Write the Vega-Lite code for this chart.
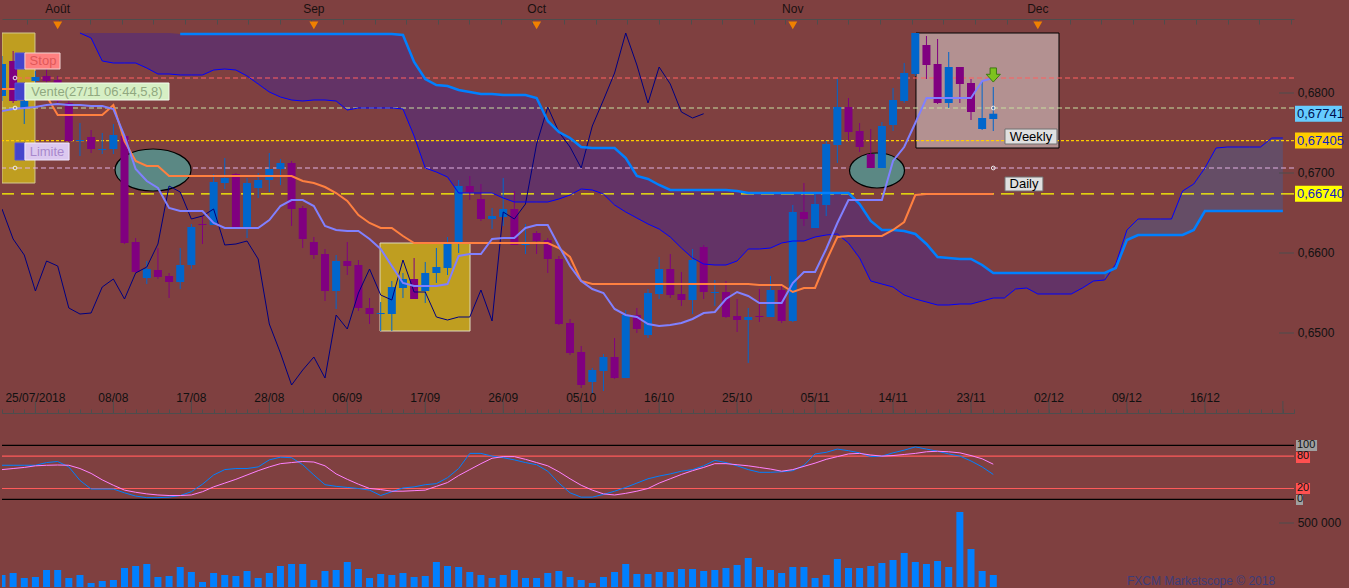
{
"$schema": "https://vega.github.io/schema/vega-lite/v6.json",
"background": "#7f4040",
"padding": 0,
"bounds": "flush",
"spacing": 0,
"config": {"view": {"stroke": null}, "font": "Liberation Sans",
  "axis": {"grid": false, "domainColor": "#4d4d4d", "tickColor": "#4d4d4d", "labelColor": "#111111", "labelFont": "Liberation Sans", "labelFontSize": 12}},
"datasets": {
"months": [{"i":0,"m":"Août"},{"i":23,"m":"Sep"},{"i":43,"m":"Oct"},{"i":66,"m":"Nov"},{"i":88,"m":"Dec"}],
"dates": [{"i":-2,"t":"25/07/2018"},{"i":5,"t":"08/08"},{"i":12,"t":"17/08"},{"i":19,"t":"28/08"},{"i":26,"t":"06/09"},{"i":33,"t":"17/09"},{"i":40,"t":"26/09"},{"i":47,"t":"05/10"},{"i":54,"t":"16/10"},{"i":61,"t":"25/10"},{"i":68,"t":"05/11"},{"i":75,"t":"14/11"},{"i":82,"t":"23/11"},{"i":89,"t":"02/12"},{"i":96,"t":"09/12"},{"i":103,"t":"16/12"},{"i":110,"t":""}],
"plab": [{"p":0.68,"t":"0,6800"},{"p":0.67,"t":"0,6700"},{"p":0.66,"t":"0,6600"},{"p":0.65,"t":"0,6500"}],
"vlab": [{"v":500000,"t":"500 000"}],
"boxes": [{"k":"yl","x1":-5,"x2":-2.04,"y1":0.66875,"y2":0.6875},{"k":"ym","x1":28.94,"x2":37.02,"y1":0.65025,"y2":0.66125},{"k":"pk","x1":77.06,"x2":89.9,"y1":0.673125,"y2":0.6875}],
"hl": [{"k":"stop","p":0.681875},{"k":"vente","p":0.678125},{"k":"t1","p":0.67405},{"k":"lim","p":0.670625},{"k":"t2","p":0.6674}],
"ell": [{"k":"a","i":8.56,"p":0.670375},{"k":"b","i":73.56,"p":0.6703125}],
"lbox": [{"k":"sq","x1":-3.83,"x2":-2.94,"y1":0.683,"y2":0.685},{"k":"stop","x1":-2.94,"x2":0.21,"y1":0.683,"y2":0.685},{"k":"sq","x1":-3.83,"x2":-2.94,"y1":0.679125,"y2":0.68125},{"k":"vente","x1":-2.94,"x2":9.99,"y1":0.679125,"y2":0.68125},{"k":"sq","x1":-3.83,"x2":-2.94,"y1":0.671625,"y2":0.67375},{"k":"lim","x1":-2.94,"x2":1.02,"y1":0.671625,"y2":0.67375},{"k":"wd","x1":85.05,"x2":89.72,"y1":0.673625,"y2":0.6755},{"k":"wd","x1":85.05,"x2":88.46,"y1":0.66775,"y2":0.6695}],
"ltext": [{"k":"stop","t":"Stop","i":-1.32,"p":0.684},{"k":"vente","t":"Vente(27/11 06:44,5,8)","i":3.53,"p":0.6801875},{"k":"lim","t":"Limite","i":-0.96,"p":0.6726875},{"k":"wd","t":"Weekly","i":87.39,"p":0.6745625},{"k":"wd","t":"Daily","i":86.76,"p":0.668625}],
"dots": [{"i":-3.83,"p":0.681875},{"i":-3.83,"p":0.678125},{"i":-3.83,"p":0.670625},{"i":84,"p":0.678125},{"i":84,"p":0.670625}],
"arrow": [{"i":84,"p":0.68225}],
"tags": [{"k":"bid","t":"0,67741","p":0.67741,"lo":0.67641,"hi":0.67841,"x1":111.09,"x2":115.3},{"k":"t1","t":"0,67405","p":0.67405,"lo":0.67305,"hi":0.67505,"x1":111.09,"x2":115.3},{"k":"t2","t":"0,66740","p":0.6674,"lo":0.6664,"hi":0.6684,"x1":111.09,"x2":115.3}],
"slev": [{"v":0,"k":"b"},{"v":100,"k":"b"},{"v":20,"k":"r"},{"v":80,"k":"r"}],
"stags": [{"t":"100","v":100,"lo":89.4,"hi":109.8,"x1":111.18,"x2":113.07,"k":"g"},{"t":"80","v":80,"lo":67.2,"hi":87.6,"x1":111.18,"x2":112.44,"k":"r"},{"t":"20","v":20,"lo":9.8,"hi":30.2,"x1":111.18,"x2":112.44,"k":"r"},{"t":"0","v":0,"lo":-10.6,"hi":8,"x1":111.18,"x2":111.81,"k":"g"}],
"cloud": [
{"i":2,"at":0.6875,"b":0.6875},{"i":3,"at":0.6875,"b":0.686875},{"i":4,"at":0.6875,"b":0.684},{"i":5,"at":0.6875,"b":0.68375},{"i":6,"at":0.6875,"b":0.68375},{"i":7,"at":0.6875,"b":0.68375},{"i":8,"at":0.6875,"b":0.683125},{"i":9,"at":0.6875,"b":0.682375},{"i":10,"at":0.6875,"b":0.682375},
{"i":11,"at":0.687375,"b":0.68225},{"i":12,"at":0.687375,"b":0.68225},{"i":13,"at":0.687375,"b":0.68225},{"i":14,"at":0.687375,"b":0.682875},{"i":15,"at":0.687375,"b":0.683},{"i":16,"at":0.687375,"b":0.682875},{"i":17,"at":0.687375,"b":0.682125},{"i":18,"at":0.687375,"b":0.681125},{"i":19,"at":0.687375,"b":0.680125},{"i":20,"at":0.687375,"b":0.6795},
{"i":21,"at":0.687375,"b":0.679125},{"i":22,"at":0.687375,"b":0.679},{"i":23,"at":0.687375,"b":0.679125},{"i":24,"at":0.687375,"b":0.679125},{"i":25,"at":0.687375,"b":0.679},{"i":26,"at":0.687375,"b":0.677875},{"i":27,"at":0.687375,"b":0.678125},{"i":28,"at":0.687375,"b":0.678125},{"i":29,"at":0.687375,"b":0.678125},{"i":30,"at":0.687375,"b":0.678125},
{"i":31,"at":0.68725,"b":0.678},{"i":32,"at":0.683875,"b":0.674625},{"i":33,"at":0.68175,"b":0.670625},{"i":34,"at":0.681,"b":0.670125},{"i":35,"at":0.680875,"b":0.6695},{"i":36,"at":0.680375,"b":0.6675},{"i":37,"at":0.680125,"b":0.6675},{"i":38,"at":0.679875,"b":0.6675},{"i":39,"at":0.679875,"b":0.6675},{"i":40,"at":0.67975,"b":0.666875},
{"i":41,"at":0.67975,"b":0.666375},{"i":42,"at":0.67975,"b":0.666375},{"i":43,"at":0.679375,"b":0.666375},{"i":44,"at":0.6765,"b":0.666375},{"i":45,"at":0.675125,"b":0.66675},{"i":46,"at":0.674375,"b":0.66725},{"i":47,"at":0.67325,"b":0.668},{"i":48,"at":0.673125,"b":0.667875},{"i":49,"at":0.673125,"b":0.667375},{"i":50,"at":0.673125,"b":0.666},
{"i":51,"at":0.671875,"b":0.665125},{"i":52,"at":0.669625,"b":0.664375},{"i":53,"at":0.66925,"b":0.663625},{"i":54,"at":0.6685,"b":0.663},{"i":55,"at":0.667875,"b":0.662},{"i":56,"at":0.667875,"b":0.660625},{"i":57,"at":0.667875,"b":0.659375},{"i":58,"at":0.667875,"b":0.658625},{"i":59,"at":0.667875,"b":0.6585},{"i":60,"at":0.667875,"b":0.6585},
{"i":61,"at":0.66775,"b":0.659},{"i":62,"at":0.6675,"b":0.6605},{"i":63,"at":0.6675,"b":0.6605},{"i":64,"at":0.6675,"b":0.660625},{"i":65,"at":0.6675,"b":0.66125},{"i":66,"at":0.6675,"b":0.6615},{"i":67,"at":0.6675,"b":0.6615},{"i":68,"at":0.6675,"b":0.662},{"i":69,"at":0.6675,"b":0.66225},{"i":70,"at":0.6675,"b":0.662375},
{"i":71,"at":0.6675,"b":0.66125},{"i":72,"at":0.666125,"b":0.659375},{"i":73,"at":0.664,"b":0.6565},{"i":74,"at":0.662875,"b":0.656125},{"i":75,"at":0.662875,"b":0.65575},{"i":76,"at":0.66275,"b":0.65475},{"i":77,"at":0.662375,"b":0.65425},{"i":78,"at":0.661125,"b":0.653875},{"i":79,"at":0.6595,"b":0.6535},{"i":80,"at":0.659375,"b":0.6535},
{"i":81,"at":0.65925,"b":0.653625},{"i":82,"at":0.65925,"b":0.653625},{"i":83,"at":0.6585,"b":0.654},{"i":84,"at":0.6575,"b":0.654375},{"i":85,"at":0.6575,"b":0.654375},{"i":86,"at":0.6575,"b":0.6555},{"i":87,"at":0.6575,"b":0.655625},{"i":88,"at":0.6575,"b":0.654875},{"i":89,"at":0.6575,"b":0.654875},{"i":90,"at":0.6575,"b":0.654875},
{"i":91,"at":0.6575,"b":0.654875},{"i":92,"at":0.6575,"b":0.655625},{"i":93,"at":0.6575,"b":0.6565},{"i":94,"at":0.6575,"b":0.656625},{"i":95,"at":0.658125,"b":0.658625},{"i":96,"at":0.661625,"b":0.662875},{"i":97,"at":0.66225,"b":0.66425},{"i":98,"at":0.66225,"b":0.66425},{"i":99,"at":0.66225,"b":0.66425},{"i":100,"at":0.66225,"b":0.66425},
{"i":101,"at":0.66225,"b":0.66775},{"i":102,"at":0.662875,"b":0.668625},{"i":103,"at":0.66525,"b":0.670625},{"i":104,"at":0.66525,"b":0.673125},{"i":105,"at":0.66525,"b":0.67325},{"i":106,"at":0.66525,"b":0.67325},{"i":107,"at":0.66525,"b":0.67325},{"i":108,"at":0.66525,"b":0.67325},{"i":109,"at":0.66525,"b":0.674375},{"i":110,"at":0.66525,"b":0.674375}
],
"bars": [
{"i":-5,"o":0.679625,"h":0.684625,"l":0.679,"c":0.683625,"v":93750,"k":63,"d":55,"tk":0.67775,"kj":0.6805,"ch":0.6655},
{"i":-4,"o":0.684,"h":0.68525,"l":0.67875,"c":0.679,"v":109375,"k":63,"d":57,"tk":0.678,"kj":0.6805,"ch":0.66175},
{"i":-3,"o":0.678125,"h":0.67925,"l":0.676125,"c":0.679,"v":70313,"k":63,"d":59,"tk":0.678125,"kj":0.6805,"ch":0.65975},
{"i":-2,"o":0.6815,"h":0.68275,"l":0.680875,"c":0.682,"v":78125,"k":63,"d":62,"tk":0.67825,"kj":0.6805,"ch":0.65525},
{"i":-1,"o":0.682125,"h":0.683,"l":0.68125,"c":0.6815,"v":132813,"k":68,"d":63,"tk":0.6785,"kj":0.679625,"ch":0.659},
{"i":0,"o":0.681625,"h":0.682125,"l":0.678625,"c":0.679,"v":132813,"k":70,"d":63.5,"tk":0.678625,"kj":0.67725,"ch":0.658375},
{"i":1,"o":0.67875,"h":0.679,"l":0.673875,"c":0.674,"v":70313,"k":60,"d":63,"tk":0.6785,"kj":0.67725,"ch":0.653125},
{"i":2,"o":0.674,"h":0.67625,"l":0.672125,"c":0.674125,"v":93750,"k":35,"d":57,"tk":0.6785,"kj":0.67725,"ch":0.652375},
{"i":3,"o":0.6745,"h":0.675375,"l":0.6725,"c":0.673,"v":31250,"k":19,"d":48,"tk":0.678375,"kj":0.67725,"ch":0.6525},
{"i":4,"o":0.672875,"h":0.675,"l":0.672375,"c":0.673,"v":46875,"k":19,"d":36,"tk":0.678375,"kj":0.67725,"ch":0.65575},
{"i":5,"o":0.673,"h":0.676125,"l":0.672375,"c":0.67475,"v":54688,"k":19,"d":26,"tk":0.678,"kj":0.6785,"ch":0.65675},
{"i":6,"o":0.674625,"h":0.674875,"l":0.661125,"c":0.66125,"v":148438,"k":12,"d":17,"tk":0.674625,"kj":0.674,"ch":0.65425},
{"i":7,"o":0.661375,"h":0.661875,"l":0.6575,"c":0.657625,"v":164063,"k":6,"d":13,"tk":0.6705,"kj":0.6715,"ch":0.6575},
{"i":8,"o":0.656875,"h":0.659,"l":0.656125,"c":0.658,"v":179688,"k":3,"d":10,"tk":0.669,"kj":0.670875,"ch":0.65825},
{"i":9,"o":0.657875,"h":0.660625,"l":0.65675,"c":0.657,"v":78125,"k":3,"d":8,"tk":0.668125,"kj":0.670875,"ch":0.661125},
{"i":10,"o":0.657125,"h":0.6575,"l":0.654375,"c":0.656375,"v":85938,"k":4,"d":7,"tk":0.665625,"kj":0.669625,"ch":0.668375},
{"i":11,"o":0.656375,"h":0.660625,"l":0.6555,"c":0.6585,"v":156250,"k":7,"d":7,"tk":0.66525,"kj":0.669625,"ch":0.667625},
{"i":12,"o":0.6585,"h":0.663625,"l":0.658,"c":0.66325,"v":117188,"k":14,"d":8,"tk":0.66525,"kj":0.669625,"ch":0.66425},
{"i":13,"o":0.663625,"h":0.664625,"l":0.661125,"c":0.6635,"v":39063,"k":28,"d":14,"tk":0.66525,"kj":0.669625,"ch":0.664625},
{"i":14,"o":0.6635,"h":0.669875,"l":0.6635,"c":0.668875,"v":109375,"k":45,"d":23,"tk":0.66375,"kj":0.669625,"ch":0.6655},
{"i":15,"o":0.66875,"h":0.671875,"l":0.668,"c":0.669375,"v":93750,"k":55,"d":30,"tk":0.663125,"kj":0.669625,"ch":0.661},
{"i":16,"o":0.669875,"h":0.67,"l":0.663125,"c":0.66325,"v":85938,"k":57,"d":37,"tk":0.663125,"kj":0.669625,"ch":0.661125},
{"i":17,"o":0.66325,"h":0.669375,"l":0.661875,"c":0.66875,"v":125000,"k":57,"d":45,"tk":0.663125,"kj":0.669625,"ch":0.6615},
{"i":18,"o":0.668125,"h":0.67,"l":0.666875,"c":0.669125,"v":70313,"k":60,"d":53,"tk":0.663125,"kj":0.669625,"ch":0.65925},
{"i":19,"o":0.669125,"h":0.6725,"l":0.667625,"c":0.6705,"v":109375,"k":73,"d":60,"tk":0.664125,"kj":0.669625,"ch":0.651125},
{"i":20,"o":0.6705,"h":0.67175,"l":0.6685,"c":0.67125,"v":164063,"k":78,"d":66,"tk":0.665875,"kj":0.669625,"ch":0.6475},
{"i":21,"o":0.67125,"h":0.6715,"l":0.663375,"c":0.6655,"v":179688,"k":77,"d":68,"tk":0.666625,"kj":0.669625,"ch":0.6435},
{"i":22,"o":0.665625,"h":0.665875,"l":0.660625,"c":0.66175,"v":179688,"k":64,"d":70,"tk":0.666625,"kj":0.669,"ch":0.645375},
{"i":23,"o":0.661375,"h":0.662,"l":0.65925,"c":0.65975,"v":54688,"k":45,"d":69,"tk":0.665875,"kj":0.66875,"ch":0.647},
{"i":24,"o":0.659875,"h":0.6605,"l":0.654,"c":0.65525,"v":125000,"k":27,"d":62,"tk":0.663375,"kj":0.66825,"ch":0.644375},
{"i":25,"o":0.65525,"h":0.65975,"l":0.653,"c":0.659,"v":132813,"k":24,"d":47,"tk":0.662875,"kj":0.6675,"ch":0.65225},
{"i":26,"o":0.659,"h":0.661375,"l":0.65725,"c":0.658375,"v":195313,"k":22,"d":37,"tk":0.66275,"kj":0.6665,"ch":0.6505},
{"i":27,"o":0.6585,"h":0.659125,"l":0.65275,"c":0.653125,"v":140625,"k":20,"d":28,"tk":0.66275,"kj":0.66475,"ch":0.655},
{"i":28,"o":0.653125,"h":0.654375,"l":0.651125,"c":0.652375,"v":70313,"k":17,"d":20,"tk":0.66175,"kj":0.66375,"ch":0.658},
{"i":29,"o":0.652375,"h":0.653875,"l":0.65025,"c":0.6525,"v":101563,"k":7,"d":18,"tk":0.6605,"kj":0.663125,"ch":0.65475},
{"i":30,"o":0.652375,"h":0.6565,"l":0.65025,"c":0.65575,"v":93750,"k":14,"d":15,"tk":0.658375,"kj":0.663125,"ch":0.654125},
{"i":31,"o":0.655625,"h":0.6575,"l":0.654375,"c":0.65675,"v":109375,"k":21,"d":15,"tk":0.65625,"kj":0.662125,"ch":0.659125},
{"i":32,"o":0.65675,"h":0.659375,"l":0.65425,"c":0.65425,"v":78125,"k":23,"d":16,"tk":0.655875,"kj":0.66125,"ch":0.655125},
{"i":33,"o":0.65525,"h":0.658875,"l":0.65375,"c":0.6575,"v":85938,"k":27,"d":17,"tk":0.655875,"kj":0.66125,"ch":0.655125},
{"i":34,"o":0.6575,"h":0.660625,"l":0.65625,"c":0.65825,"v":195313,"k":29,"d":24,"tk":0.655875,"kj":0.66125,"ch":0.652},
{"i":35,"o":0.658125,"h":0.662,"l":0.65725,"c":0.661125,"v":164063,"k":40,"d":31,"tk":0.656125,"kj":0.66125,"ch":0.651625},
{"i":36,"o":0.66125,"h":0.669125,"l":0.66,"c":0.668375,"v":156250,"k":57,"d":44,"tk":0.659625,"kj":0.66125,"ch":0.652},
{"i":37,"o":0.668375,"h":0.669625,"l":0.666625,"c":0.667625,"v":117188,"k":85,"d":55,"tk":0.659875,"kj":0.66125,"ch":0.652},
{"i":38,"o":0.66675,"h":0.668625,"l":0.664,"c":0.66425,"v":93750,"k":85,"d":66,"tk":0.659875,"kj":0.66125,"ch":0.655375},
{"i":39,"o":0.66425,"h":0.665625,"l":0.663,"c":0.664625,"v":70313,"k":80,"d":76,"tk":0.66175,"kj":0.66125,"ch":0.6515},
{"i":40,"o":0.6645,"h":0.669375,"l":0.663375,"c":0.6655,"v":93750,"k":77,"d":79,"tk":0.661875,"kj":0.66125,"ch":0.665125},
{"i":41,"o":0.6655,"h":0.66775,"l":0.661,"c":0.661,"v":132813,"k":73,"d":79,"tk":0.661875,"kj":0.66125,"ch":0.66425},
{"i":42,"o":0.661,"h":0.663625,"l":0.659875,"c":0.661125,"v":70313,"k":68,"d":74,"tk":0.663125,"kj":0.66125,"ch":0.666125},
{"i":43,"o":0.6625,"h":0.66275,"l":0.659875,"c":0.6615,"v":70313,"k":64,"d":68,"tk":0.6635,"kj":0.66125,"ch":0.673625},
{"i":44,"o":0.661625,"h":0.661875,"l":0.6575,"c":0.65925,"v":109375,"k":52,"d":62,"tk":0.6635,"kj":0.66125,"ch":0.67825},
{"i":45,"o":0.65925,"h":0.659625,"l":0.651,"c":0.651125,"v":125000,"k":30,"d":51,"tk":0.660875,"kj":0.660625,"ch":0.675125},
{"i":46,"o":0.65125,"h":0.65175,"l":0.64725,"c":0.6475,"v":78125,"k":12,"d":38,"tk":0.658375,"kj":0.6595,"ch":0.67325},
{"i":47,"o":0.647625,"h":0.648375,"l":0.643125,"c":0.6435,"v":54688,"k":4,"d":26,"tk":0.6565,"kj":0.6565,"ch":0.670625},
{"i":48,"o":0.643875,"h":0.645625,"l":0.6425,"c":0.645375,"v":31250,"k":4,"d":17,"tk":0.6555,"kj":0.656125,"ch":0.675875},
{"i":49,"o":0.64525,"h":0.647375,"l":0.64275,"c":0.647,"v":78125,"k":9,"d":10,"tk":0.655,"kj":0.656125,"ch":0.679125},
{"i":50,"o":0.647,"h":0.649375,"l":0.64425,"c":0.644375,"v":117188,"k":15,"d":8,"tk":0.653,"kj":0.656125,"ch":0.6825},
{"i":51,"o":0.644375,"h":0.652875,"l":0.644375,"c":0.65225,"v":179688,"k":22,"d":11,"tk":0.65225,"kj":0.656125,"ch":0.6875},
{"i":52,"o":0.65225,"h":0.653125,"l":0.65,"c":0.6505,"v":101563,"k":30,"d":15,"tk":0.652,"kj":0.656125,"ch":0.6835},
{"i":53,"o":0.64975,"h":0.6555,"l":0.649375,"c":0.655,"v":101563,"k":38,"d":20,"tk":0.651125,"kj":0.656125,"ch":0.67875},
{"i":54,"o":0.654875,"h":0.6595,"l":0.65425,"c":0.658,"v":117188,"k":43,"d":30,"tk":0.650875,"kj":0.656125,"ch":0.68325},
{"i":55,"o":0.658,"h":0.659875,"l":0.654375,"c":0.65475,"v":117188,"k":47,"d":38,"tk":0.651,"kj":0.656125,"ch":0.681125},
{"i":56,"o":0.654875,"h":0.657625,"l":0.653375,"c":0.654125,"v":140625,"k":52,"d":46,"tk":0.65125,"kj":0.656125,"ch":0.677625},
{"i":57,"o":0.654125,"h":0.6605,"l":0.652375,"c":0.659125,"v":140625,"k":55,"d":53,"tk":0.65175,"kj":0.656125,"ch":0.676875},
{"i":58,"o":0.66075,"h":0.661,"l":0.65425,"c":0.655125,"v":125000,"k":62,"d":59,"tk":0.6525,"kj":0.656125,"ch":0.67741},
{"i":59,"o":0.655,"h":0.656625,"l":0.653375,"c":0.655125,"v":132813,"k":72,"d":66,"tk":0.652625,"kj":0.656125},
{"i":60,"o":0.655125,"h":0.6565,"l":0.651875,"c":0.652,"v":148438,"k":68,"d":66,"tk":0.65425,"kj":0.656125},
{"i":61,"o":0.652125,"h":0.65425,"l":0.650125,"c":0.651625,"v":171875,"k":62,"d":64,"tk":0.655125,"kj":0.656125},
{"i":62,"o":0.651625,"h":0.653125,"l":0.64625,"c":0.652,"v":226563,"k":55,"d":62,"tk":0.654625,"kj":0.656125},
{"i":63,"o":0.652125,"h":0.6555,"l":0.651375,"c":0.652,"v":156250,"k":50,"d":59,"tk":0.65375,"kj":0.656},
{"i":64,"o":0.652,"h":0.657125,"l":0.652,"c":0.655375,"v":132813,"k":50,"d":56,"tk":0.65375,"kj":0.656},
{"i":65,"o":0.655375,"h":0.656125,"l":0.65125,"c":0.6515,"v":109375,"k":51,"d":52,"tk":0.65375,"kj":0.656},
{"i":66,"o":0.6515,"h":0.666,"l":0.651375,"c":0.665125,"v":156250,"k":53,"d":55,"tk":0.65625,"kj":0.655125},
{"i":67,"o":0.665125,"h":0.66875,"l":0.663375,"c":0.66425,"v":156250,"k":63,"d":61,"tk":0.657625,"kj":0.655625},
{"i":68,"o":0.663125,"h":0.667375,"l":0.663125,"c":0.666125,"v":70313,"k":84,"d":67,"tk":0.657625,"kj":0.655625},
{"i":69,"o":0.666,"h":0.674,"l":0.664625,"c":0.673625,"v":93750,"k":87,"d":74,"tk":0.6605,"kj":0.659},
{"i":70,"o":0.6735,"h":0.68175,"l":0.67125,"c":0.67825,"v":218750,"k":93,"d":79,"tk":0.66375,"kj":0.662},
{"i":71,"o":0.67825,"h":0.679375,"l":0.674,"c":0.675125,"v":148438,"k":90,"d":84,"tk":0.666625,"kj":0.662125},
{"i":72,"o":0.67525,"h":0.67625,"l":0.672625,"c":0.67325,"v":148438,"k":86,"d":85,"tk":0.666625,"kj":0.662125},
{"i":73,"o":0.672375,"h":0.6755,"l":0.670625,"c":0.670625,"v":164063,"k":79,"d":82,"tk":0.666625,"kj":0.662125},
{"i":74,"o":0.670625,"h":0.676375,"l":0.670625,"c":0.675875,"v":187500,"k":80,"d":80,"tk":0.666625,"kj":0.662125},
{"i":75,"o":0.676,"h":0.680625,"l":0.67525,"c":0.679125,"v":210938,"k":86,"d":81,"tk":0.6715,"kj":0.662875},
{"i":76,"o":0.679,"h":0.68375,"l":0.67875,"c":0.6825,"v":265625,"k":91,"d":83,"tk":0.67325,"kj":0.663875},
{"i":77,"o":0.682375,"h":0.6875,"l":0.682125,"c":0.6875,"v":195313,"k":97,"d":85,"tk":0.67625,"kj":0.66725},
{"i":78,"o":0.686,"h":0.687125,"l":0.68175,"c":0.6835,"v":179688,"k":93,"d":88,"tk":0.679375,"kj":0.667375},
{"i":79,"o":0.683625,"h":0.68675,"l":0.678625,"c":0.67875,"v":203125,"k":89,"d":89,"tk":0.679375,"kj":0.667375},
{"i":80,"o":0.67875,"h":0.685125,"l":0.678125,"c":0.68325,"v":156250,"k":84,"d":88,"tk":0.679375,"kj":0.667375},
{"i":81,"o":0.68325,"h":0.68325,"l":0.67875,"c":0.681125,"v":585938,"k":80,"d":86,"tk":0.679375,"kj":0.667375},
{"i":82,"o":0.68125,"h":0.68175,"l":0.676625,"c":0.677625,"v":296875,"k":71,"d":81,"tk":0.679375,"kj":0.667375},
{"i":83,"o":0.6755,"h":0.6815,"l":0.675375,"c":0.676875,"v":125000,"k":60,"d":75,"tk":0.6815,"kj":0.667375},
{"i":84,"o":0.67675,"h":0.68075,"l":0.67525,"c":0.67741,"v":93750,"k":46,"d":65,"tk":0.681875,"kj":0.667375}
]
},
"vconcat": [
{
 "width": 1292, "height": 18,
 "layer": [
  {"data": {"name": "months"}, "mark": {"type": "text", "fontSize": 12, "color": "#1a1010", "baseline": "middle"},
   "encoding": {"x": {"field": "i", "type": "quantitative", "scale": {"domain": [-5, 111], "nice": false, "zero": false, "padding": 0}, "axis": null},
                "y": {"datum": 10, "type": "quantitative", "scale": {"domain": [0, 18]}, "axis": null},
                "text": {"field": "m"}}},
  {"data": {"name": "months"}, "mark": {"type": "rule", "color": "#7f4040", "strokeWidth": 1},
   "encoding": {"x": {"datum": 116.1, "type": "quantitative", "scale": {"domain": [-5, 111], "nice": false, "zero": false, "padding": 0}, "axis": null}}}
 ]
},
{
 "width": 1292, "height": 394,
 "resolve": {"scale": {"color": "independent", "fill": "independent", "stroke": "independent", "strokeDash": "independent"}},
 "layer": [
  {"data": {"name": "cloud"}, "transform": [{"filter": "datum.i <= 95"}],
   "mark": {"type": "area", "color": "#633366", "clip": true},
   "encoding": {
     "x": {"field": "i", "type": "quantitative", "scale": {"domain": [-5, 111], "nice": false, "zero": false, "padding": 0},
           "axis": {"orient": "top", "values": [-2.76,0.08,2.91,5.75,8.59,11.43,14.26,17.1,19.94,22.77,25.61,28.45,31.29,34.12,36.96,39.8,42.63,45.47,48.31,51.14,53.98,56.82,59.66,62.49,65.33,68.17,71,73.84,76.68,79.52,82.35,85.19,88.03,90.86,93.7,96.54,99.37,102.21,105.05,107.89,110.72], "labels": false, "tickSize": -5, "title": null}},
     "y": {"field": "at", "type": "quantitative", "scale": {"domain": [0.64, 0.68925], "nice": false, "zero": false, "padding": 0},
           "axis": {"orient": "right", "values": [0.642,0.644,0.646,0.648,0.65,0.652,0.654,0.656,0.658,0.66,0.662,0.664,0.666,0.668,0.67,0.672,0.674,0.676,0.678,0.68,0.682,0.684,0.686,0.688], "tickSize": -6, "labels": false, "title": null}},
     "y2": {"field": "b"}}},
  {"data": {"name": "cloud"}, "transform": [{"filter": "datum.i >= 94"}],
   "mark": {"type": "area", "color": "#654d66", "clip": true},
   "encoding": {
     "x": {"field": "i", "type": "quantitative", "scale": {"domain": [-5, 111], "nice": false, "zero": false, "padding": 0},
           "axis": {"orient": "bottom", "tickCount": 116, "labels": false, "tickSize": -4, "title": null}},
     "y": {"field": "at", "type": "quantitative", "scale": {"domain": [0.64, 0.68925], "nice": false, "zero": false, "padding": 0}, "axis": null},
     "y2": {"field": "b"}}},
  {"data": {"name": "boxes"},
   "mark": {"type": "rect", "strokeWidth": 1, "clip": true},
   "encoding": {
     "x": {"field": "x1", "type": "quantitative", "scale": {"domain": [-5, 111], "nice": false, "zero": false, "padding": 0}, "axis": null},
     "x2": {"field": "x2"},
     "y": {"field": "y1", "type": "quantitative", "scale": {"domain": [0.64, 0.68925], "nice": false, "zero": false, "padding": 0}, "axis": null},
     "y2": {"field": "y2"},
     "fill": {"field": "k", "type": "nominal", "scale": {"domain": ["yl","ym","pk"], "range": ["#bf9e20","#bf9e20","#b39191"]}, "legend": null},
     "stroke": {"field": "k", "type": "nominal", "scale": {"domain": ["yl","ym","pk"], "range": ["#d4c890","#dcd8bc","#000000"]}, "legend": null}}},
  {"data": {"name": "hl"},
   "mark": {"type": "rule", "strokeWidth": 1.2},
   "encoding": {
     "y": {"field": "p", "type": "quantitative", "scale": {"domain": [0.64, 0.68925], "nice": false, "zero": false, "padding": 0}, "axis": null},
     "color": {"field": "k", "type": "nominal", "scale": {"domain": ["stop","vente","t1","lim","t2"], "range": ["#ff6060","#c8e0a0","#ffcc00","#e0b0e0","#ffff00"]}, "legend": null},
     "strokeDash": {"field": "k", "type": "nominal", "scale": {"domain": ["stop","vente","t1","lim","t2"], "range": [[5,3],[5,3],[3,2],[5,3],[13,7]]}, "legend": null}}},
  {"data": {"name": "ell"}, "transform": [{"filter": "datum.k == 'a'"}],
   "mark": {"type": "point", "shape": "M -1 0 A 1 0.553 0 1 1 1 0 A 1 0.553 0 1 1 -1 0 Z", "size": 5776, "filled": true, "fill": "#5b8884", "stroke": "#000000", "strokeWidth": 1.2, "opacity": 1},
   "encoding": {
     "x": {"field": "i", "type": "quantitative", "scale": {"domain": [-5, 111], "nice": false, "zero": false, "padding": 0}, "axis": null},
     "y": {"field": "p", "type": "quantitative", "scale": {"domain": [0.64, 0.68925], "nice": false, "zero": false, "padding": 0}, "axis": null}}},
  {"data": {"name": "ell"}, "transform": [{"filter": "datum.k == 'b'"}],
   "mark": {"type": "point", "shape": "M -1 0 A 1 0.636 0 1 1 1 0 A 1 0.636 0 1 1 -1 0 Z", "size": 3025, "filled": true, "fill": "#5b8884", "stroke": "#000000", "strokeWidth": 1.2, "opacity": 1},
   "encoding": {
     "x": {"field": "i", "type": "quantitative", "scale": {"domain": [-5, 111], "nice": false, "zero": false, "padding": 0}, "axis": null},
     "y": {"field": "p", "type": "quantitative", "scale": {"domain": [0.64, 0.68925], "nice": false, "zero": false, "padding": 0}, "axis": null}}},
  {"data": {"name": "bars"},
   "mark": {"type": "rule", "strokeWidth": 1, "clip": true},
   "encoding": {
     "x": {"field": "i", "type": "quantitative", "scale": {"domain": [-5, 111], "nice": false, "zero": false, "padding": 0}, "axis": null},
     "y": {"field": "l", "type": "quantitative", "scale": {"domain": [0.64, 0.68925], "nice": false, "zero": false, "padding": 0}, "axis": null},
     "y2": {"field": "h"},
     "color": {"condition": {"test": "datum.c >= datum.o", "value": "#0066cc"}, "value": "#800080"}}},
  {"data": {"name": "bars"},
   "mark": {"type": "bar", "size": 8, "clip": true},
   "encoding": {
     "x": {"field": "i", "type": "quantitative", "scale": {"domain": [-5, 111], "nice": false, "zero": false, "padding": 0}, "axis": null},
     "y": {"field": "o", "type": "quantitative", "scale": {"domain": [0.64, 0.68925], "nice": false, "zero": false, "padding": 0}, "axis": null},
     "y2": {"field": "c"},
     "color": {"condition": {"test": "datum.c >= datum.o", "value": "#0066cc"}, "value": "#800080"}}},
  {"data": {"name": "bars"}, "transform": [{"filter": "isValid(datum.ch)"}],
   "mark": {"type": "line", "color": "#000080", "strokeWidth": 1, "clip": true},
   "encoding": {
     "x": {"field": "i", "type": "quantitative", "scale": {"domain": [-5, 111], "nice": false, "zero": false, "padding": 0}, "axis": null},
     "y": {"field": "ch", "type": "quantitative", "scale": {"domain": [0.64, 0.68925], "nice": false, "zero": false, "padding": 0}, "axis": null}}},
  {"data": {"name": "cloud"},
   "mark": {"type": "line", "color": "#0000ff", "strokeWidth": 1, "clip": true},
   "encoding": {
     "x": {"field": "i", "type": "quantitative", "scale": {"domain": [-5, 111], "nice": false, "zero": false, "padding": 0}, "axis": null},
     "y": {"field": "b", "type": "quantitative", "scale": {"domain": [0.64, 0.68925], "nice": false, "zero": false, "padding": 0}, "axis": null}}},
  {"data": {"name": "cloud"}, "transform": [{"filter": "datum.i >= 11"}],
   "mark": {"type": "line", "color": "#0080ff", "strokeWidth": 2.5, "clip": true},
   "encoding": {
     "x": {"field": "i", "type": "quantitative", "scale": {"domain": [-5, 111], "nice": false, "zero": false, "padding": 0}, "axis": null},
     "y": {"field": "at", "type": "quantitative", "scale": {"domain": [0.64, 0.68925], "nice": false, "zero": false, "padding": 0}, "axis": null}}},
  {"data": {"name": "bars"},
   "mark": {"type": "line", "color": "#ff8040", "strokeWidth": 2, "clip": true},
   "encoding": {
     "x": {"field": "i", "type": "quantitative", "scale": {"domain": [-5, 111], "nice": false, "zero": false, "padding": 0}, "axis": null},
     "y": {"field": "kj", "type": "quantitative", "scale": {"domain": [0.64, 0.68925], "nice": false, "zero": false, "padding": 0}, "axis": null}}},
  {"data": {"name": "bars"},
   "mark": {"type": "line", "color": "#8080ff", "strokeWidth": 2, "clip": true},
   "encoding": {
     "x": {"field": "i", "type": "quantitative", "scale": {"domain": [-5, 111], "nice": false, "zero": false, "padding": 0}, "axis": null},
     "y": {"field": "tk", "type": "quantitative", "scale": {"domain": [0.64, 0.68925], "nice": false, "zero": false, "padding": 0}, "axis": null}}},
  {"data": {"name": "months"},
   "mark": {"type": "point", "shape": "triangle-down", "size": 80, "filled": true, "color": "#f08000", "opacity": 1},
   "encoding": {
     "x": {"field": "i", "type": "quantitative", "scale": {"domain": [-5, 111], "nice": false, "zero": false, "padding": 0}, "axis": null},
     "y": {"datum": 0.68845, "type": "quantitative", "scale": {"domain": [0.64, 0.68925], "nice": false, "zero": false, "padding": 0}, "axis": null}}},
  {"data": {"name": "dates"},
   "mark": {"type": "tick", "color": "#4d4d4d", "thickness": 1, "size": 12, "orient": "vertical", "opacity": 1},
   "encoding": {
     "x": {"field": "i", "type": "quantitative", "scale": {"domain": [-5, 111], "nice": false, "zero": false, "padding": 0}, "axis": null},
     "y": {"datum": 0.64075, "type": "quantitative", "scale": {"domain": [0.64, 0.68925], "nice": false, "zero": false, "padding": 0}, "axis": null}}},
  {"data": {"name": "plab"},
   "mark": {"type": "tick", "color": "#4d4d4d", "thickness": 1, "size": 15, "orient": "horizontal", "opacity": 1},
   "encoding": {
     "x": {"datum": 110.33, "type": "quantitative", "scale": {"domain": [-5, 111], "nice": false, "zero": false, "padding": 0}, "axis": null},
     "y": {"field": "p", "type": "quantitative", "scale": {"domain": [0.64, 0.68925], "nice": false, "zero": false, "padding": 0}, "axis": null}}},
  {"data": {"name": "dates"},
   "mark": {"type": "text", "fontSize": 12, "color": "#111111", "baseline": "middle"},
   "encoding": {
     "x": {"field": "i", "type": "quantitative", "scale": {"domain": [-5, 111], "nice": false, "zero": false, "padding": 0}, "axis": null},
     "y": {"datum": 0.641875, "type": "quantitative", "scale": {"domain": [0.64, 0.68925], "nice": false, "zero": false, "padding": 0}, "axis": null},
     "text": {"field": "t"}}},
  {"data": {"name": "plab"},
   "mark": {"type": "text", "fontSize": 12, "color": "#111111", "align": "left", "baseline": "middle"},
   "encoding": {
     "x": {"datum": 111.33, "type": "quantitative", "scale": {"domain": [-5, 111], "nice": false, "zero": false, "padding": 0}, "axis": null},
     "y": {"field": "p", "type": "quantitative", "scale": {"domain": [0.64, 0.68925], "nice": false, "zero": false, "padding": 0}, "axis": null},
     "text": {"field": "t"}}},
  {"data": {"name": "lbox"},
   "mark": {"type": "rect", "strokeWidth": 1},
   "encoding": {
     "x": {"field": "x1", "type": "quantitative", "scale": {"domain": [-5, 111], "nice": false, "zero": false, "padding": 0}, "axis": null},
     "x2": {"field": "x2"},
     "y": {"field": "y1", "type": "quantitative", "scale": {"domain": [0.64, 0.68925], "nice": false, "zero": false, "padding": 0}, "axis": null},
     "y2": {"field": "y2"},
     "fill": {"field": "k", "type": "nominal", "scale": {"domain": ["sq","stop","vente","lim","wd"], "range": ["#4444cc","#ff8080","#d6efc4","#dcc8ef","#e0e0e0"]}, "legend": null},
     "stroke": {"field": "k", "type": "nominal", "scale": {"domain": ["sq","stop","vente","lim","wd"], "range": ["#5050e0","#f0d0d0","#f4fff0","#f0e8ff","#707070"]}, "legend": null}}},
  {"data": {"name": "ltext"},
   "mark": {"type": "text", "fontSize": 13, "baseline": "middle"},
   "encoding": {
     "x": {"field": "i", "type": "quantitative", "scale": {"domain": [-5, 111], "nice": false, "zero": false, "padding": 0}, "axis": null},
     "y": {"field": "p", "type": "quantitative", "scale": {"domain": [0.64, 0.68925], "nice": false, "zero": false, "padding": 0}, "axis": null},
     "text": {"field": "t"},
     "color": {"field": "k", "type": "nominal", "scale": {"domain": ["stop","vente","lim","wd"], "range": ["#e05858","#90a880","#a888cc","#000000"]}, "legend": null}}},
  {"data": {"name": "dots"},
   "mark": {"type": "point", "size": 14, "filled": false, "stroke": "#eeeeee", "strokeWidth": 1, "opacity": 1},
   "encoding": {
     "x": {"field": "i", "type": "quantitative", "scale": {"domain": [-5, 111], "nice": false, "zero": false, "padding": 0}, "axis": null},
     "y": {"field": "p", "type": "quantitative", "scale": {"domain": [0.64, 0.68925], "nice": false, "zero": false, "padding": 0}, "axis": null}}},
  {"data": {"name": "arrow"},
   "mark": {"type": "point", "shape": "M -0.45 -1 L 0.45 -1 L 0.45 -0.1 L 1 -0.1 L 0 1 L -1 -0.1 L -0.45 -0.1 Z", "size": 200, "filled": true, "fill": "#7dc21e", "stroke": "#3d7a10", "strokeWidth": 1, "opacity": 1},
   "encoding": {
     "x": {"field": "i", "type": "quantitative", "scale": {"domain": [-5, 111], "nice": false, "zero": false, "padding": 0}, "axis": null},
     "y": {"field": "p", "type": "quantitative", "scale": {"domain": [0.64, 0.68925], "nice": false, "zero": false, "padding": 0}, "axis": null}}},
  {"data": {"name": "tags"},
   "mark": {"type": "rect"},
   "encoding": {
     "x": {"field": "x1", "type": "quantitative", "scale": {"domain": [-5, 111], "nice": false, "zero": false, "padding": 0}, "axis": null},
     "x2": {"field": "x2"},
     "y": {"field": "lo", "type": "quantitative", "scale": {"domain": [0.64, 0.68925], "nice": false, "zero": false, "padding": 0}, "axis": null},
     "y2": {"field": "hi"},
     "fill": {"field": "k", "type": "nominal", "scale": {"domain": ["bid","t1","t2"], "range": ["#66ccff","#ffcc00","#ffff00"]}, "legend": null}}},
  {"data": {"name": "tags"},
   "mark": {"type": "text", "fontSize": 13, "align": "left", "baseline": "middle", "dx": 2},
   "encoding": {
     "x": {"field": "x1", "type": "quantitative", "scale": {"domain": [-5, 111], "nice": false, "zero": false, "padding": 0}, "axis": null},
     "y": {"field": "p", "type": "quantitative", "scale": {"domain": [0.64, 0.68925], "nice": false, "zero": false, "padding": 0}, "axis": null},
     "text": {"field": "t"},
     "color": {"field": "k", "type": "nominal", "scale": {"domain": ["bid","t1","t2"], "range": ["#001050","#1020c0","#1020c0"]}, "legend": null}}}
 ]
},
{
 "width": 1292, "height": 89,
 "resolve": {"scale": {"color": "independent", "fill": "independent"}},
 "layer": [
  {"data": {"name": "slev"},
   "mark": {"type": "rule", "strokeWidth": 1.2},
   "encoding": {
     "y": {"field": "v", "type": "quantitative", "scale": {"domain": [-5, 159.8], "nice": false, "zero": false, "padding": 0},
           "axis": {"orient": "right", "values": [0,20,40,60,80,100], "labels": false, "tickSize": -5, "title": null}},
     "color": {"field": "k", "type": "nominal", "scale": {"domain": ["b","r"], "range": ["#000000","#ff5a5a"]}, "legend": null}}},
  {"data": {"name": "bars"},
   "mark": {"type": "line", "color": "#0080ff", "strokeWidth": 1},
   "encoding": {
     "x": {"field": "i", "type": "quantitative", "scale": {"domain": [-5, 111], "nice": false, "zero": false, "padding": 0}, "axis": null},
     "y": {"field": "k", "type": "quantitative", "scale": {"domain": [-5, 159.8], "nice": false, "zero": false, "padding": 0}, "axis": null}}},
  {"data": {"name": "bars"},
   "mark": {"type": "line", "color": "#ff80ff", "strokeWidth": 1},
   "encoding": {
     "x": {"field": "i", "type": "quantitative", "scale": {"domain": [-5, 111], "nice": false, "zero": false, "padding": 0}, "axis": null},
     "y": {"field": "d", "type": "quantitative", "scale": {"domain": [-5, 159.8], "nice": false, "zero": false, "padding": 0}, "axis": null}}},
  {"data": {"name": "stags"},
   "mark": {"type": "rect"},
   "encoding": {
     "x": {"field": "x1", "type": "quantitative", "scale": {"domain": [-5, 111], "nice": false, "zero": false, "padding": 0}, "axis": null},
     "x2": {"field": "x2"},
     "y": {"field": "lo", "type": "quantitative", "scale": {"domain": [-5, 159.8], "nice": false, "zero": false, "padding": 0}, "axis": null},
     "y2": {"field": "hi"},
     "fill": {"field": "k", "type": "nominal", "scale": {"domain": ["g","r"], "range": ["#a0a0a0","#ff5050"]}, "legend": null}}},
  {"data": {"name": "stags"},
   "mark": {"type": "text", "fontSize": 11, "align": "left", "baseline": "middle", "color": "#111111", "dx": 1},
   "encoding": {
     "x": {"field": "x1", "type": "quantitative", "scale": {"domain": [-5, 111], "nice": false, "zero": false, "padding": 0}, "axis": null},
     "y": {"field": "v", "type": "quantitative", "scale": {"domain": [-5, 159.8], "nice": false, "zero": false, "padding": 0}, "axis": null},
     "text": {"field": "t"}}}
 ]
},
{
 "width": 1292, "height": 87,
 "layer": [
  {"data": {"name": "bars"},
   "mark": {"type": "bar", "color": "#0080ff", "size": 7, "clip": true},
   "encoding": {
     "x": {"field": "i", "type": "quantitative", "scale": {"domain": [-5, 111], "nice": false, "zero": false, "padding": 0}, "axis": null},
     "y": {"field": "v", "type": "quantitative", "scale": {"domain": [-15625, 664062.5], "nice": false, "zero": false, "padding": 0},
           "axis": {"orient": "right", "values": [100000,200000,300000,400000,500000,600000], "tickSize": -6, "labels": false, "title": null}}}},
  {"data": {"name": "vlab"},
   "mark": {"type": "tick", "color": "#4d4d4d", "thickness": 1, "size": 15, "orient": "horizontal", "opacity": 1},
   "encoding": {
     "x": {"datum": 110.33, "type": "quantitative", "scale": {"domain": [-5, 111], "nice": false, "zero": false, "padding": 0}, "axis": null},
     "y": {"field": "v", "type": "quantitative", "scale": {"domain": [-15625, 664062.5], "nice": false, "zero": false, "padding": 0}, "axis": null}}},
  {"data": {"name": "vlab"},
   "mark": {"type": "text", "fontSize": 12, "color": "#111111", "align": "left", "baseline": "middle"},
   "encoding": {
     "x": {"datum": 111.33, "type": "quantitative", "scale": {"domain": [-5, 111], "nice": false, "zero": false, "padding": 0}, "axis": null},
     "y": {"field": "v", "type": "quantitative", "scale": {"domain": [-15625, 664062.5], "nice": false, "zero": false, "padding": 0}, "axis": null},
     "text": {"field": "t"}}},
  {"data": {"values": [{"t": "FXCM Marketscope © 2018"}]},
   "mark": {"type": "text", "fontSize": 12, "color": "#3c3c7a", "baseline": "middle"},
   "encoding": {
     "x": {"datum": 102.65, "type": "quantitative", "scale": {"domain": [-5, 111], "nice": false, "zero": false, "padding": 0}, "axis": null},
     "y": {"datum": 46875, "type": "quantitative", "scale": {"domain": [-15625, 664062.5], "nice": false, "zero": false, "padding": 0}, "axis": null},
     "text": {"field": "t"}}}
 ]
}
]
}
